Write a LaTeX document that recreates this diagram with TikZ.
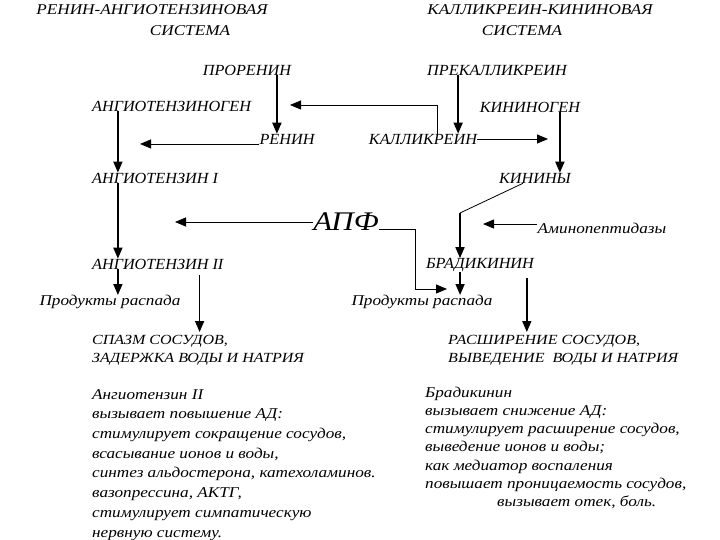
\documentclass[tikz,border=0pt]{standalone}
\usepackage{fontspec}
\setmainfont{Liberation Serif}
\newfontfamily\rfont[FakeStretch=1.15]{Liberation Serif}
\newfontfamily\cfont[FakeStretch=1.05]{Liberation Serif}
\usetikzlibrary{positioning,arrows.meta}

\begin{document}
\begin{tikzpicture}[x=1bp,y=-1bp,
  t/.style={inner sep=0pt,font=\cfont\itshape\fontsize{15.5}{17}\selectfont},
  hd/.style={inner sep=0pt,font=\rfont\itshape\fontsize{15}{17}\selectfont},
  big/.style={inner sep=0pt,font=\rfont\itshape\fontsize{27}{30}\selectfont},
  txt/.style={inner sep=0pt,align=left,anchor=north west,font=\rfont\itshape\fontsize{15}{19.8}\selectfont},
  a/.style={-{Triangle[width=9bp,length=11bp]},line width=1.6bp},
  l/.style={-{Triangle[width=9bp,length=11bp]},line width=0.8bp},
  ln/.style={line width=0.8bp}]
\useasboundingbox (0,0) rectangle (720,540);
% headings
\node[hd](hra) at (152,10){РЕНИН-АНГИОТЕНЗИНОВАЯ};
\node[hd](hrb) at (190,31){СИСТЕМА};
\node[hd](hka) at (540,10){КАЛЛИКРЕИН-КИНИНОВАЯ};
\node[hd](hkb) at (522,31){СИСТЕМА};
% left chain
\node[t](proren) at (247,70){ПРОРЕНИН};
\node[t,anchor=west](angen) at (92,106){АНГИОТЕНЗИНОГЕН};
\node[t](renin) at (287,139){РЕНИН};
\node[t,anchor=west](ang1) at (92,178){АНГИОТЕНЗИН I};
\node[t,anchor=west](ang2) at (92,264){АНГИОТЕНЗИН II};
\node[hd](prodl) at (110,302){Продукты распада};
% right chain
\node[t](prekal) at (497,70){ПРЕКАЛЛИКРЕИН};
\node[t](kinogen) at (530,107){КИНИНОГЕН};
\node[t](kallik) at (423,139){КАЛЛИКРЕИН};
\node[t](kinin) at (535,178){КИНИНЫ};
\node[t](brad) at (480,265){БРАДИКИНИН};
\node[hd](prodr) at (422,302){Продукты распада};
% enzymes
\node[big](apf) at (346,222){АПФ};
\node[hd](amino) at (602,228){Аминопептидазы};
% effects
\node[txt,font=\rfont\itshape\fontsize{14}{18.5}\selectfont](effl) at (92,335){СПАЗМ СОСУДОВ,\\ЗАДЕРЖКА ВОДЫ И НАТРИЯ};
\node[txt,font=\rfont\itshape\fontsize{14}{18.5}\selectfont](effr) at (448,335){РАСШИРЕНИЕ СОСУДОВ,\\ВЫВЕДЕНИЕ\ \ ВОДЫ И НАТРИЯ};
\node[txt](descl) at (92,389){Ангиотензин II\\вызывает повышение АД:\\стимулирует сокращение сосудов,\\всасывание ионов и воды,\\синтез альдостерона, катехоламинов.\\вазопрессина, АКТГ,\\стимулирует симпатическую\\нервную систему.};
\node[txt,font=\rfont\itshape\fontsize{15}{18.2}\selectfont](descr) at (425,387){Брадикинин\\вызывает снижение АД:\\стимулирует расширение сосудов,\\выведение ионов и воды;\\как медиатор воспаления\\повышает проницаемость сосудов,\\\hspace*{72bp}вызывает отек, боль.};
% free ends and bends
\coordinate (rtip) at (290,105);
\coordinate (atip) at (140,144);
\coordinate (ptip) at (175,223);
\coordinate (ktip) at (548,138);
\coordinate (btip) at (483,224);
\coordinate (ftip) at (447,289);
\coordinate (fbend) at (415,289);
\coordinate (kbend) at (460,213);
% vertical arrows
\path ([xshift=30]proren.south) coordinate (s1)
      ([xshift=-39]prekal.south) coordinate (s2)
      ([xshift=30]kinogen.south) coordinate (s3)
      ([xshift=26]angen.south west) coordinate (s4)
      ([xshift=26]ang1.south west) coordinate (s5)
      ([xshift=26]ang2.south west) coordinate (s6)
      ([xshift=-20]brad.south) coordinate (s7)
      ([xshift=108,yshift=-6]ang2.south west) coordinate (s8)
      ([xshift=47,yshift=-6]brad.south) coordinate (s9)
      ([yshift=3]effl.north) coordinate (e1)
      ([yshift=3]effr.north) coordinate (e2);
\draw[a](s1)--(s1|-renin.north);
\draw[a](s2)--(s2|-kallik.north);
\draw[a](s3)--(s3|-kinin.north);
\draw[a](s4)--(s4|-ang1.north);
\draw[a](s5)--(s5|-ang2.north);
\draw[a](s6)--(s6|-prodl.north);
\draw[a](s7)--(s7|-prodr.north);
\draw[a](s8)--(s8|-e1);
\draw[a](s9)--(s9|-e2);
\draw[ln]([xshift=-12]kinin.south)--(kbend);
\draw[a](kbend)--(kbend|-brad.north);
% thin connectors
\path ([yshift=-5]renin.west) coordinate (r1)
      ([yshift=4]amino.west) coordinate (m1)
      ([yshift=-7]apf.east) coordinate (p1);
\draw[l]([xshift=14]kallik.north)|-(rtip);
\draw[l](r1)--(r1-|atip);
\draw[l](kallik.east)--(kallik.east-|ktip);
\draw[l](apf.west)--(apf.west-|ptip);
\draw[l](p1)-|(fbend)--(ftip);
\draw[l](m1)--(m1-|btip);
\end{tikzpicture}
\end{document}
